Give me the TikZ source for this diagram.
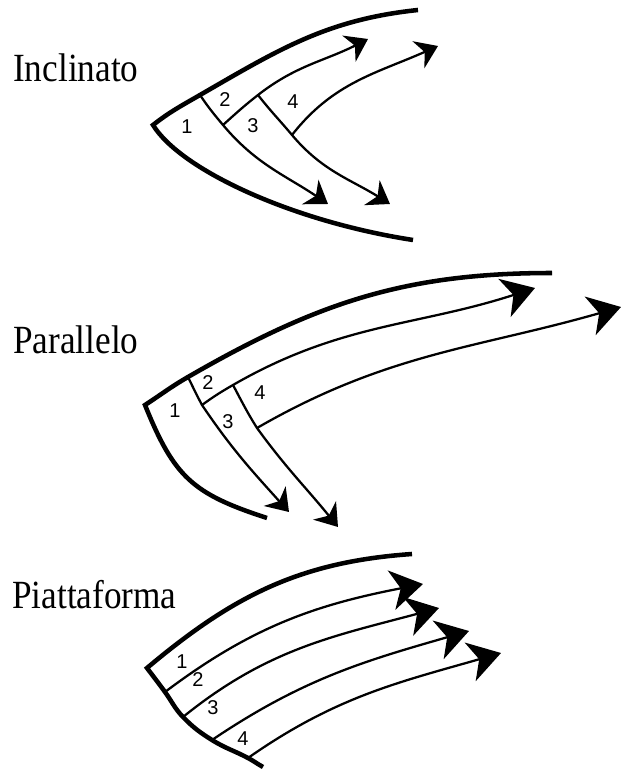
\documentclass[tikz,border=0pt]{standalone}
\usepackage{fontspec}
\newfontfamily\titlefont[FakeStretch=0.88]{Liberation Serif}
\newfontfamily\numfont{Liberation Sans}
\usetikzlibrary{arrows.meta}

\begin{document}
\begin{tikzpicture}[x=0.75pt, y=0.75pt,
      wall/.style={line width=3.4pt, line join=miter},
      flow/.style={line width=1.7pt},
      smallhead/.style={flow, -{Stealth[length=16pt, width=22pt, inset=5pt]}},
      bighead/.style={flow, -{Stealth[length=24pt, width=30pt, inset=7pt]}},
      title/.style={anchor=base west, inner sep=0pt, font=\titlefont\fontsize{30}{30}\selectfont},
      num/.style={inner sep=0pt, font=\numfont\fontsize{15}{15}\selectfont}]

      \useasboundingbox (0,0) rectangle (622,769);

      % Inclinato
      \node[title] (tinc) at (13,687) {Inclinato};
      \coordinate (i-tip) at (153,644);
      \coordinate (i-top) at (418,759);
      \coordinate (i-bot) at (413,529);
      \coordinate (i-j1) at (200,674);
      \coordinate (i-j2) at (223,644);
      \coordinate (i-j3) at (258,674);
      \coordinate (i-j4) at (292,634);
      \coordinate (i-e1) at (328,565);
      \coordinate (i-e2) at (368,730);
      \coordinate (i-e3) at (390,565);
      \coordinate (i-e4) at (438,723);

      \draw[wall] (i-top) to[out=186, in=30] (i-j1) to[out=210, in=38] (i-tip)
            .. controls (180,600) and (290,548) .. (i-bot);
      \draw[smallhead] (i-j1) to[out=-56, in=130] (i-j2) to[out=-50, in=146] (i-e1);
      \draw[smallhead] (i-j2) to[out=42, in=218] (i-j3) to[out=38, in=207] (i-e2);
      \draw[smallhead] (i-j3) to[out=-52, in=130] (i-j4) to[out=-50, in=148] (i-e3);
      \draw[smallhead] (i-j4) to[out=52, in=204] (i-e4);

      \node[num] (i-n1) at (187,642) {1};
      \node[num] (i-n2) at (225,669) {2};
      \node[num] (i-n3) at (253,643) {3};
      \node[num] (i-n4) at (293,667) {4};

      % Parallelo
      \node[title] (tpar) at (13,415) {Parallelo};
      \coordinate (p-tip) at (145,364);
      \coordinate (p-top) at (552,496);
      \coordinate (p-bot) at (267,251);
      \coordinate (p-j1) at (188,392);
      \coordinate (p-j2) at (202,364);
      \coordinate (p-j3) at (233,384);
      \coordinate (p-j4) at (257,341);
      \coordinate (p-e1) at (289,257);
      \coordinate (p-e2) at (535,481);
      \coordinate (p-e3) at (338,242);
      \coordinate (p-e4) at (621,462);

      \draw[wall] (p-top) to[out=180, in=30] (p-j1) to[out=210, in=33] (p-tip) to[out=-68, in=162, looseness=1.2] (p-bot);
      \draw[smallhead] (p-j1) to[out=-64, in=118] (p-j2) to[out=-56, in=132] (p-e1);
      \draw[bighead] (p-j2) to[out=36, in=210] (p-j3) to[out=30, in=198] (p-e2);
      \draw[smallhead] (p-j3) to[out=-62, in=122] (p-j4) to[out=-54, in=129] (p-e3);
      \draw[bighead] (p-j4) to[out=30, in=196] (p-e4);

      \node[num] (p-n1) at (175,358) {1};
      \node[num] (p-n2) at (208,386) {2};
      \node[num] (p-n3) at (228,347) {3};
      \node[num] (p-n4) at (260,376) {4};

      % Piattaforma
      \node[title] (tpia) at (12,160) {Piattaforma};
      \coordinate (f-tip) at (147,101);
      \coordinate (f-top) at (412,215);
      \coordinate (f-bot) at (263,2);
      \coordinate (f-s1) at (165,77);
      \coordinate (f-s2) at (183,52);
      \coordinate (f-s3) at (212,29);
      \coordinate (f-s4) at (248,11);
      \coordinate (f-e1) at (423,185);
      \coordinate (f-e2) at (439,161);
      \coordinate (f-e3) at (469,138);
      \coordinate (f-e4) at (501,116);

      \draw[wall] (f-top) to[out=184, in=40] (f-tip) to[out=-53, in=126] (f-s1) to[out=-54, in=134] (f-s2)
            to[out=-46, in=148] (f-s3) to[out=-32, in=152] (f-s4) to[out=-28, in=151] (f-bot);
      \draw[bighead] (f-s1) to[out=37, in=191] (f-e1);
      \draw[bighead] (f-s2) to[out=39, in=195] (f-e2);
      \draw[bighead] (f-s3) to[out=34, in=196] (f-e3);
      \draw[bighead] (f-s4) to[out=35, in=196] (f-e4);

      \node[num] (f-n1) at (182,107) {1};
      \node[num] (f-n2) at (198,89) {2};
      \node[num] (f-n3) at (213,61) {3};
      \node[num] (f-n4) at (243,30) {4};

\end{tikzpicture}
\end{document}
